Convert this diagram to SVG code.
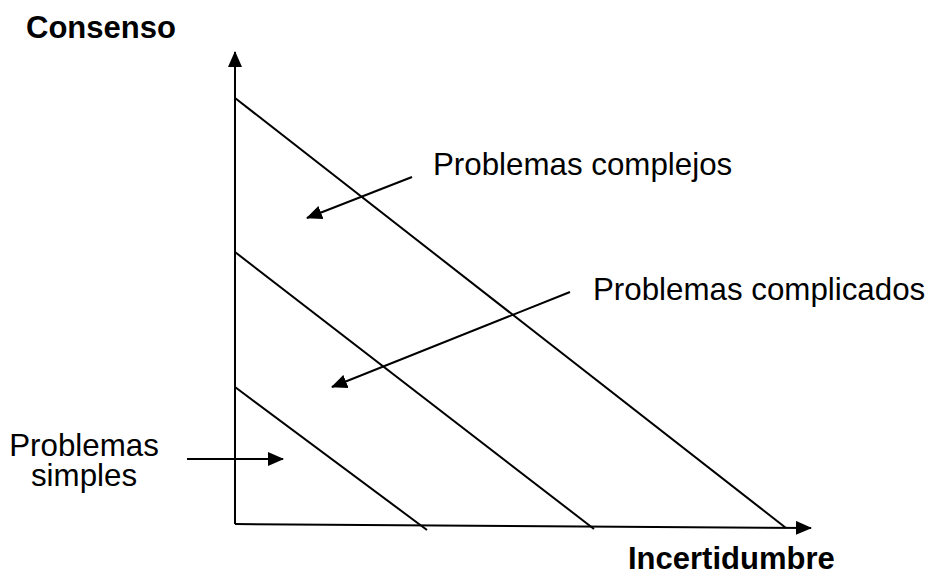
<svg xmlns="http://www.w3.org/2000/svg" width="932" height="575" viewBox="0 0 932 575">
<style>
.ln{stroke:#000;stroke-width:2;fill:none}
.t{font-family:"Liberation Sans",Arial,sans-serif;font-size:31.3px;fill:#000}
.b{font-family:"Liberation Sans",Arial,sans-serif;font-size:31px;font-weight:bold;fill:#000}
</style>
<defs>
<marker id="ax" markerWidth="16" markerHeight="14" refX="15" refY="7" orient="auto" markerUnits="userSpaceOnUse" viewBox="0 0 16 14">
<path d="M0,0 L16,7 L0,14 z" fill="#000"/>
</marker>
</defs>
<rect width="932" height="575" fill="#fff"/>
<g id="axes">
<line class="ln" x1="235" y1="524" x2="235" y2="52" marker-end="url(#ax)"/>
<line class="ln" x1="235" y1="524" x2="811" y2="528" marker-end="url(#ax)"/>
</g>
<g id="bands">
<line class="ln" x1="235" y1="98" x2="786" y2="528"/>
<line class="ln" x1="235" y1="252" x2="594" y2="529"/>
<line class="ln" x1="235" y1="387" x2="427" y2="530"/>
</g>
<g id="connectors">
<line class="ln" x1="412" y1="177" x2="307" y2="218" marker-end="url(#ax)"/>
<line class="ln" x1="570" y1="292" x2="332" y2="387" marker-end="url(#ax)"/>
<line class="ln" x1="187" y1="459" x2="283" y2="459" marker-end="url(#ax)"/>
</g>
<g id="label-consenso"><text class="b" x="26" y="38">Consenso</text></g>
<g id="label-incertidumbre"><text class="b" x="628" y="569">Incertidumbre</text></g>
<g id="node-complejos"><text class="t" x="433" y="175">Problemas complejos</text></g>
<g id="node-complicados"><text class="t" x="593" y="300">Problemas complicados</text></g>
<g id="node-simples"><text class="t" x="84" y="456" text-anchor="middle">Problemas</text><text class="t" x="84" y="486" text-anchor="middle">simples</text></g>
</svg>
